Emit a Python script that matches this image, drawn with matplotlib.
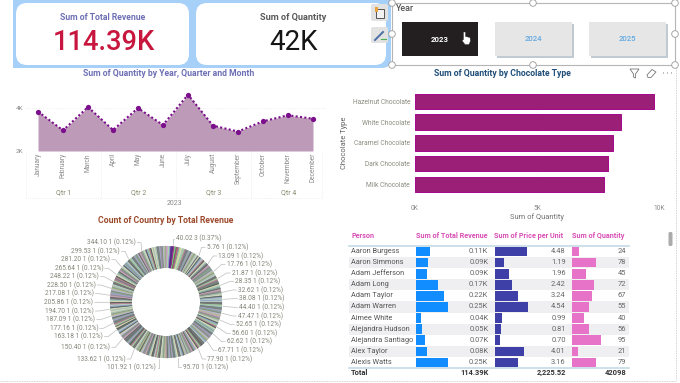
import math
import matplotlib
matplotlib.use("Agg")
import matplotlib.pyplot as plt
from matplotlib.patches import FancyBboxPatch, Rectangle, Circle, Polygon
from matplotlib.ticker import FixedLocator, FuncFormatter

plt.rcParams['font.family'] = ['Roboto', 'DejaVu Sans']

# ---- data ----
months = ['January','February','March','April','May','June','July','August','September','October','November','December']
quantity_by_month = [3.82,2.95,4.03,2.97,3.98,3.20,4.60,3.17,2.90,3.37,3.65,3.49]
quarters = ['Qtr 1','Qtr 2','Qtr 3','Qtr 4']
chocolates = ['Hazelnut Chocolate','White Chocolate','Caramel Chocolate','Dark Chocolate','Milk Chocolate']
chocolate_qty = [9.81,8.43,8.13,7.91,7.75]
country_counts = [3] + [1]*807
donut_right_labels = ['40.02 3 (0.37%)','5.76 1 (0.12%)','13.09 1 (0.12%)','17.76 1 (0.12%)','21.87 1 (0.12%)',
    '28.35 1 (0.12%)','32.62 1 (0.12%)','38.08 1 (0.12%)','44.40 1 (0.12%)','47.47 1 (0.12%)','52.65 1 (0.12%)',
    '56.60 1 (0.12%)','62.62 1 (0.12%)','67.71 1 (0.12%)','77.90 1 (0.12%)','95.70 1 (0.12%)']
donut_left_labels = ['344.10 1 (0.12%)','299.53 1 (0.12%)','281.20 1 (0.12%)','265.64 1 (0.12%)','248.22 1 (0.12%)',
    '228.50 1 (0.12%)','217.08 1 (0.12%)','205.86 1 (0.12%)','194.70 1 (0.12%)','187.09 1 (0.12%)','177.16 1 (0.12%)',
    '163.18 1 (0.12%)','150.40 1 (0.12%)','133.62 1 (0.12%)','101.92 1 (0.12%)']
persons = ['Aaron Burgess','Aaron Simmons','Adam Jefferson','Adam Long','Adam Taylor','Adam Warren','Aimee White',
           'Alejandra Hudson','Alejandra Santiago','Alex Taylor','Alexis Watts']
revenue = [0.105,0.092,0.084,0.174,0.216,0.25,0.034,0.042,0.066,0.082,0.25]
revenue_labels = ['0.11K','0.09K','0.09K','0.17K','0.22K','0.25K','0.04K','0.05K','0.07K','0.08K','0.25K']
price = [4.48,1.19,1.96,2.42,3.24,4.54,0.99,0.81,0.70,4.01,3.16]
qty = [24,78,45,72,67,55,40,56,95,21,79]
table_headers = ['Person','Sum of Total Revenue','Sum of Price per Unit','Sum of Quantity']
table_totals = ['Total','114.39K','2,225.52','42098']
years = ['2023','2024','2025']

# ---- layout (pixels) ----
W, H = 680, 383
fig = plt.figure(figsize=(W/100, H/100), dpi=100, facecolor='white')
bg = fig.add_axes([0,0,1,1], zorder=0)
bg.set_xlim(0,W); bg.set_ylim(H,0); bg.axis('off')

def px_axes(x0,y0,x1,y1):
    ax = fig.add_axes([x0/W, 1-y1/H, (x1-x0)/W, (y1-y0)/H], zorder=1)
    ax.patch.set_alpha(0)
    return ax

def rbox(x0,y0,x1,y1,r,fc,ec='none',lw=0,z=1):
    bg.add_patch(FancyBboxPatch((x0+r,y0+r),x1-x0-2*r,y1-y0-2*r,boxstyle=f'round,pad={r},rounding_size={r}',
                                fc=fc,ec=ec,lw=lw,zorder=z))

def txt(x,y,s,size,color,ha='center',weight='normal',rot=0,z=5,fam=None):
    kw = {'family':fam} if fam else {}
    bg.text(x,y,s,fontsize=size,color=color,ha=ha,va='center',fontweight=weight,rotation=rot,zorder=z,**kw)

GRAY='#8A8A8A'
BLUE='#A6D0F7'
# KPI band
rbox(13,-12,391,68,9,BLUE)
bg.add_patch(Rectangle((13,0),100,68,fc=BLUE,ec='none',zorder=1))
rbox(16,3,189,65,11,'white',z=2)
rbox(196,3,386,65,11,'white',z=2)
txt(103,17,'Sum of Total Revenue',6.2,'#6E70B5',weight='bold')
txt(104,43,'114.39K',19.6,'#C8173F',weight='medium')
txt(293,17,'Sum of Quantity',6.6,'#5A5A5A',weight='bold')
txt(293,43,'42K',20,'#151515')
# side icons
for y0,y1 in [(4,21),(27,43)]:
    rbox(371,y0,388,y1,2,'#E2E2E2',z=3)
bg.add_patch(Rectangle((376,9),8,9,fc='#F2F2F2',ec='#555555',lw=0.7,zorder=4))
bg.add_patch(Rectangle((375,7),3,5,fc='#E8A33D',ec='none',zorder=4))
bg.plot([375,383],[40,32],color='#4A6FA5',lw=1.4,zorder=4)
bg.plot([381,386],[39,39],color='#4CAF50',lw=0.8,zorder=4)

# Slicer
bg.add_patch(Rectangle((392,3),283,62,fc='white',ec='#B5B5B5',lw=0.8,zorder=2))
for cx,cy in [(392,3),(533,3),(675,3),(392,34),(675,34),(392,65),(533,65),(675,65)]:
    bg.add_patch(Circle((cx,cy),3.3,fc='white',ec='#9A9A9A',lw=0.6,zorder=4))
txt(396,8.5,'Year',6.4,'#555555',ha='left',weight='medium')
for (x0,x1),label,sel in zip([(402,478),(495,572),(589,666)],years,[True,False,False]):
    if not sel:
        bg.add_patch(Rectangle((x0+1.5,23.5),x1-x0,34,fc='#BFCAD2',ec='none',zorder=3))
    bg.add_patch(Rectangle((x0,22),x1-x0,34,fc='#231F20' if sel else '#E6E6E6',ec='none',zorder=3))
    txt((x0+x1)/2,39,label,5.6,'white' if sel else '#62A9E2',weight='bold' if sel else 'medium')
# hand cursor
bg.add_patch(Polygon([(463.5,32),(465.5,32),(465.5,36.5),(470,37.5),(470.5,41),(469,44.5),(465,44.5),(462,40.5),(463.5,39.5)],
                     fc='white',ec='#333333',lw=0.3,zorder=6))

# visual header icons
bg.add_patch(Polygon([(630,69),(639,69),(635.5,74),(635.5,78),(633.5,77),(633.5,74)],fc='none',ec='#777777',lw=0.6,zorder=3))
bg.add_patch(Polygon([(647,75),(652,69.5),(656,72),(651,77.5),(648,77.5)],fc='none',ec='#777777',lw=0.6,zorder=3))
for x in (663.5,667.5,671.5):
    bg.add_patch(Circle((x,73),0.55,fc='#777777',ec='none',zorder=3))

# frame lines
bg.plot([675.5,675.5],[66,380],color='#C4C4C4',lw=0.6,ls=(0,(1,1)),zorder=1)
bg.plot([0,676],[380.7,380.7],color='#C4C4C4',lw=0.6,ls=(0,(1,1)),zorder=1)

# ---- line chart ----
txt(169,73.5,'Sum of Quantity by Year, Quarter and Month',6.2,'#6E70B5',weight='bold')
ax = px_axes(25.5,86,325.5,151)
xs = range(len(months))
ax.fill_between(xs,quantity_by_month,2,color='#BD9BB8',lw=0)
ax.plot(xs,quantity_by_month,color='#7B0F8C',lw=1.5,ls=(0,(1,1.1)),marker='o',ms=3.8,mew=0)
ax.set_xlim(-0.5,11.5); ax.set_ylim(2,5)
ax.set_xticks(list(xs)); ax.set_xticklabels(months,rotation=90,fontsize=4.7,color=GRAY)
ax.yaxis.set_major_locator(FixedLocator([2,4]))
ax.yaxis.set_major_formatter(FuncFormatter(lambda v,_:f'{v:.0f}K'))
ax.tick_params(axis='y',length=0,labelsize=4.6,labelcolor=GRAY,pad=1.5)
ax.tick_params(axis='x',length=0,pad=1.5)
ax.grid(axis='y',color='#E6E6E6',lw=0.5,ls=':')
ax.set_axisbelow(True)
for s in ax.spines.values(): s.set_visible(False)
for i,q in enumerate(quarters):
    txt(63.2+75*i,192.5,q,5,'#8A8A70')
for x in (25.7,100.7,175.7,250.7,321.7):
    bg.plot([x,x],[151,198],color='#E4E4E4',lw=0.5,ls=':',zorder=1)
bg.plot([25.7,321.7],[198,198],color='#E4E4E4',lw=0.5,ls=':',zorder=1)
txt(175,203.7,'2023',5,'#8A8A8A')

# ---- bar chart ----
txt(502,73.5,'Sum of Quantity by Chocolate Type',6.2,'#1F4E79',weight='bold')
ax = px_axes(415,91,659,194.8)
ypos = range(len(chocolates))
ax.barh(list(ypos),chocolate_qty,height=0.74,color='#9B1F77',edgecolor='#A5078C',lw=0.7)
ax.set_ylim(4.5,-0.5); ax.set_xlim(0,10)
ax.set_yticks(list(ypos)); ax.set_yticklabels(chocolates,fontsize=4.8,color='#8C8C80')
ax.xaxis.set_major_locator(FixedLocator([0,5,10]))
ax.xaxis.set_major_formatter(FuncFormatter(lambda v,_:f'{v:.0f}K'))
ax.tick_params(axis='x',length=0,labelsize=4.8,labelcolor=GRAY,pad=7)
ax.tick_params(axis='y',length=0,pad=3.5)
ax.grid(axis='x',color='#EDEDED',lw=0.5,ls=':')
ax.set_axisbelow(True)
for s in ax.spines.values(): s.set_visible(False)
txt(537,217,'Sum of Quantity',5.4,'#707070')
txt(344,143,'Chocolate Type',5.4,'#606060',rot=90)

# ---- donut ----
txt(166,220.7,'Count of Country by Total Revenue',6.2,'#9C4A2C',weight='bold')
palette = ['#5F6360','#9FC0B5','#6E6F6A','#CBD6BA','#7D8C78','#A59BC4','#4F5A55','#B3C7BC','#8A9A7E','#C79FB0',
           '#70757C','#9CC79A','#565C5A','#B8B2CF','#7FA096','#D6D6B0','#666A70','#A8BEB0','#8E8898','#6B7F70','#B07A8C','#8CA4C4','#A9B88F']
head = ['#C8A0C8','#A0D8A0','#8C8CC8','#5B1A8E','#3A2A70','#A01890','#70D070','#5F6360','#C05070','#8090A0','#B8E080']
slice_colors = []
for i in range(len(country_counts)):
    run = i//3
    slice_colors.append(head[run] if run < len(head) else palette[(run*9 + run//5*4 + run//13) % len(palette)])
R = 56
ax = px_axes(166-R,302-R,166+R,302+R)
wedges,_ = ax.pie(country_counts,colors=slice_colors,startangle=90,counterclock=False,radius=1,
       wedgeprops=dict(width=0.39,linewidth=0.15))
for w,c in zip(wedges,slice_colors):
    w.set_edgecolor(c)
ax.set_xlim(-1,1); ax.set_ylim(-1,1)
right_pos = [(527,86),(620,112),(655,138),(680,163),(695,189),(706,214),(713,240),(717,266),(717,292),(713,318),
             (707,344),(695,370),(680,395),(655,421),(622,447),(548,472)]
left_pos = [(408,98),(360,124),(331,149),(310,175),(297,200),(287,225),(282,251),(280,277),(282,303),(286,329),
            (295,355),(309,380),(331,412),(377,447),(468,473)]
def leader(tx,ty,side):
    dx,dy = tx+side*2-166, ty-302
    d = math.hypot(dx,dy)
    ex,ey = 166+dx/d*(R+1), 302+dy/d*(R+1)
    bx = tx+side*5 if abs(tx+side*5-166)>abs(ex-166) else ex
    bg.plot([tx+side*1.5,bx,ex],[ty,ty,ey],color='#BDBDBD',lw=0.5,zorder=1)
for s,(zx,zy) in zip(donut_right_labels,right_pos):
    x,y = zx/3, 210+zy/3
    txt(x,y,s,4.7,'#85857A',ha='left')
    leader(x,y,-1)
for s,(zx,zy) in zip(donut_left_labels,left_pos):
    x,y = zx/3, 210+zy/3
    txt(x,y,s,4.7,'#85857A',ha='right')
    leader(x,y,1)

# ---- table ----
row_y = [251.7+11.06*i for i in range(len(persons))]
for i,y in enumerate(row_y):
    if i%2==1:
        bg.add_patch(Rectangle((349,y-5.53),280,11.06,fc='#EFEFF1',ec='none',zorder=1))
hx = [351,416,494.3,571.7]
for x,s in zip(hx,table_headers):
    txt(x,236.3,s,5.2,'#D94FB5',ha='left',weight='bold')
bg.plot([349,629],[245.7,245.7],color='#C5DCE8',lw=1.2,zorder=2)
bg.plot([349,629],[367.8,367.8],color='#C5DCE8',lw=1.2,zorder=2)
for i,y in enumerate(row_y):
    txt(351,y,persons[i],5.3,'#555555',ha='left')
    txt(488.3,y,revenue_labels[i],5.4,'#666666',ha='right')
    txt(565.7,y,f'{price[i]:.2f}',5.4,'#666666',ha='right')
    txt(626,y,str(qty[i]),5.4,'#666666',ha='right')
txt(351,372.7,table_totals[0],5.4,'#333333',ha='left',weight='bold')
for x,s in zip((488.3,565.7,626),table_totals[1:]):
    txt(x,372.7,s,5.4,'#333333',ha='right',weight='bold')
for (x0,x1,xmax,vals,col) in [(416.3,488,0.566,revenue,'#118DFF'),(495,566,9.86,price,'#3F3FA8'),(571.7,627,179,qty,'#E673C8')]:
    ax = px_axes(x0,246.2,x1,367.8)
    ax.barh(range(len(vals)),vals,height=0.85,color=col,lw=0)
    ax.set_xlim(0,xmax); ax.set_ylim(len(vals)-0.5,-0.5)
    ax.axis('off')
# scrollbar
rbox(668.5,232,672.5,246,1.5,'#ABABAB')

fig.savefig('out.png',dpi=100)
